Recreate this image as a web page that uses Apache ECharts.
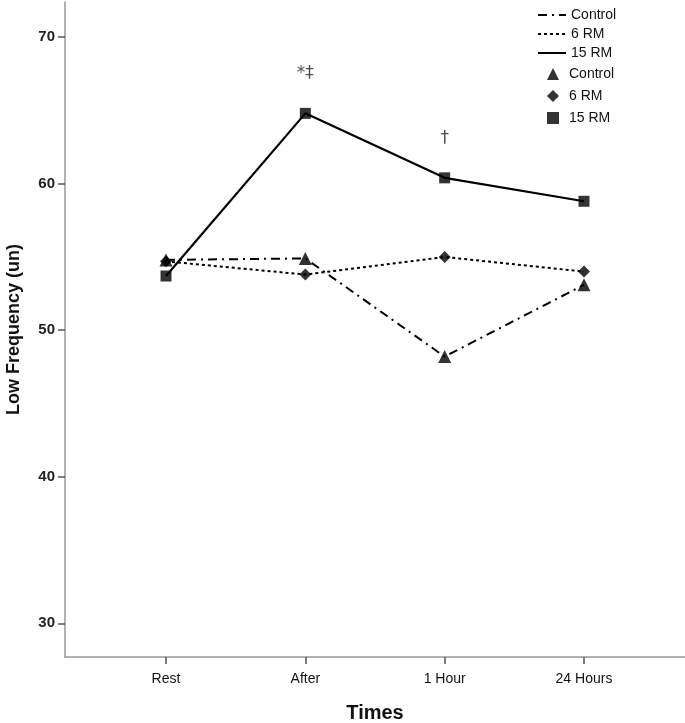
<!DOCTYPE html>
<html>
<head>
<meta charset="utf-8">
<script src="https://cdn.jsdelivr.net/npm/echarts@6/dist/echarts.min.js"></script>
<style>html,body{margin:0;padding:0;background:#fff}#c{width:685px;height:723px}</style>
</head>
<body>
<div id="c"></div>
<script>
var categories = ['Rest', 'After', '1 Hour', '24 Hours'];
var categoryPos = [1, 2, 3, 4];
var controlValues = [54.8, 54.9, 48.2, 53.1];
var rm6Values = [54.7, 53.8, 55.0, 54.0];
var rm15Values = [53.7, 64.8, 60.4, 58.8];
var yTicks = [30, 40, 50, 60, 70];
var annotationText = ['*\u2021', '\u2020'];
var annotationPos = [2, 3];
var annotationValues = [67.5, 63.1];

function pairs(vals) { return vals.map(function (v, i) { return [categoryPos[i], v]; }); }

var chart = echarts.init(document.getElementById('c'));
var font = 'Liberation Sans, Arial, sans-serif';
chart.setOption({
  animation: false,
  grid: { left: 65, right: 0, top: 2, bottom: 66, containLabel: false, outerBoundsMode: 'none' },
  xAxis: {
    type: 'value', min: 0.275, max: 4.725,
    name: 'Times', nameLocation: 'middle', nameGap: 46,
    nameTextStyle: { fontFamily: font, fontSize: 20, fontWeight: 'bold', color: '#111' },
    axisLine: { lineStyle: { color: '#999', width: 1.5 } },
    axisTick: { show: true, length: 7, customValues: categoryPos, lineStyle: { color: '#555', width: 1.5 } },
    axisLabel: { customValues: categoryPos, margin: 15, fontFamily: font, fontSize: 14, color: '#111',
      formatter: function (v) { return categories[categoryPos.indexOf(Math.round(v))] || ''; } },
    splitLine: { show: false }
  },
  yAxis: {
    type: 'value', min: 27.7, max: 72.4,
    name: 'Low Frequency (un)', nameLocation: 'middle', nameGap: 42, nameRotate: 90,
    nameTextStyle: { fontFamily: font, fontSize: 18, fontWeight: 'bold', color: '#111' },
    axisLine: { show: true, lineStyle: { color: '#999', width: 1.5 } },
    axisTick: { show: true, length: 7, customValues: yTicks, lineStyle: { color: '#555', width: 1.5 } },
    axisLabel: { customValues: yTicks, margin: 10, fontFamily: font, fontSize: 15, fontWeight: 'bold', color: '#222' },
    splitLine: { show: false }
  },
  legend: [
    { left: 537, top: 8, padding: 0, orient: 'vertical', itemWidth: 28, itemHeight: 14, itemGap: 5,
      data: ['Control-line', '6 RM-line', '15 RM-line'],
      itemStyle: { opacity: 0 },
      formatter: function (n) { return n.replace('-line', ''); },
      textStyle: { fontFamily: font, fontSize: 14, color: '#111' } },
    { left: 547, top: 67, padding: 0, orient: 'vertical', itemWidth: 12, itemHeight: 12, itemGap: 8,
      data: ['Control-marker', '6 RM-marker', '15 RM-marker'],
      formatter: function (n) { return n.replace('-marker', ''); },
      textStyle: { fontFamily: font, fontSize: 14, color: '#111', padding: [0, 0, 0, 5] } }
  ],
  series: [
    { name: 'Control-line', type: 'line', symbol: 'none', data: pairs(controlValues),
      lineStyle: { color: '#000', width: 2, type: [9, 5, 2, 5] }, itemStyle: { color: '#000', opacity: 0 }, z: 2 },
    { name: '6 RM-line', type: 'line', symbol: 'none', data: pairs(rm6Values),
      lineStyle: { color: '#000', width: 2, type: [3, 3] }, itemStyle: { color: '#000', opacity: 0 }, z: 2 },
    { name: '15 RM-line', type: 'line', symbol: 'none', data: pairs(rm15Values),
      lineStyle: { color: '#000', width: 2.2, type: 'solid' }, itemStyle: { color: '#000', opacity: 0 }, z: 3 },
    { name: 'Control-marker', type: 'scatter', symbol: 'triangle', symbolSize: 13, data: pairs(controlValues),
      itemStyle: { color: '#000' }, z: 4 },
    { name: '6 RM-marker', type: 'scatter', symbol: 'diamond', symbolSize: 12, data: pairs(rm6Values),
      itemStyle: { color: '#000' }, z: 4 },
    { name: '15 RM-marker', type: 'scatter', symbol: 'rect', symbolSize: 11, data: pairs(rm15Values),
      itemStyle: { color: '#000' }, z: 4 },
    { name: 'annotations', type: 'scatter', symbol: 'circle', symbolSize: 1, silent: true,
      itemStyle: { color: 'rgba(0,0,0,0)' },
      data: annotationPos.map(function (p, i) { return { value: [p, annotationValues[i]], label: { formatter: annotationText[i] } }; }),
      label: { show: true, position: 'inside', fontFamily: 'DejaVu Sans, sans-serif', fontSize: 17, color: '#222' } }
  ]
});
</script>
</body>
</html>
